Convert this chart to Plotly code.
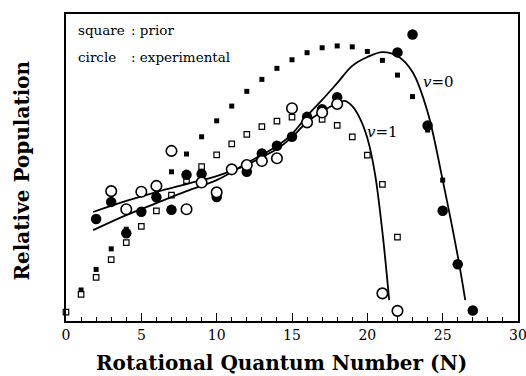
"""
Relative population of rotational levels N for v=0 and v=1:
prior distribution (squares), experimental values (circles) and fitted
curves, drawn with Plotly.
"""

import plotly.graph_objects as go

# prior distribution, v=0 (small filled squares)
PRIOR_V0_N = list(range(0, 26))
PRIOR_V0 = [0.29, 1.01, 1.68, 2.35, 2.99, 3.62, 4.23, 4.86, 5.44, 6.00,
            6.52, 7.00, 7.48, 7.87, 8.23, 8.51, 8.74, 8.90, 8.96, 8.93,
            8.78, 8.49, 8.01, 7.31, 6.22, 4.59]

# prior distribution, v=1 (small open squares)
PRIOR_V1_N = list(range(0, 23))
PRIOR_V1 = [0.29, 0.87, 1.42, 2.00, 2.55, 3.08, 3.59, 4.10, 4.57, 5.03,
            5.41, 5.77, 6.08, 6.33, 6.51, 6.64, 6.63, 6.57, 6.37, 6.00,
            5.40, 4.45, 2.73]

# experimental, v=0 (filled circles)
EXP_V0_N = [2, 3, 4, 5, 6, 7, 8, 9, 10, 12, 13, 14, 15, 16, 17, 18,
            22, 23, 24, 25, 26, 27]
EXP_V0 = [3.32, 3.88, 2.86, 3.56, 4.03, 3.62, 4.76, 4.79, 4.04, 4.86,
          5.46, 5.71, 6.00, 6.65, 6.90, 7.29, 8.75, 9.33, 6.37, 3.59,
          1.85, 0.34]

# experimental, v=1 (open circles)
EXP_V1_N = [3, 4, 5, 6, 7, 8, 9, 10, 11, 12, 13, 14, 15, 16, 17, 18,
            21, 22]
EXP_V1 = [4.23, 3.64, 4.21, 4.40, 5.54, 3.64, 4.51, 4.19, 4.94, 5.08,
          5.21, 5.30, 6.93, 6.47, 6.79, 7.07, 0.90, 0.33]

# fitted curves
FIT_V0_N = [1.8, 4, 6, 8, 10, 11, 12, 13, 14, 15, 16, 17, 18, 19, 20,
            21, 22, 23, 24, 25, 26, 26.5]
FIT_V0 = [2.96, 3.45, 3.84, 4.23, 4.59, 4.85, 5.15, 5.41, 5.70, 6.09,
          6.68, 7.20, 7.75, 8.31, 8.60, 8.76, 8.63, 8.11, 6.81, 4.59,
          2.12, 0.68]

FIT_V1_N = [1.8, 4, 6, 8, 10, 11, 12, 13, 14, 15, 16, 17, 18, 18.5, 19,
            19.5, 20, 20.5, 21, 21.45]
FIT_V1 = [3.55, 3.91, 4.20, 4.46, 4.72, 4.89, 5.08, 5.34, 5.60, 5.99,
          6.48, 6.82, 7.10, 7.17, 7.00, 6.61, 5.96, 4.82, 2.90, 0.68]

SERIF = 'DejaVu Serif'


def add_points(fig):
    """
    Adds the prior squares, the fitted curves and the experimental
    circles, in the order they should be stacked.
    """
    fig.add_trace(go.Scatter(x=PRIOR_V0_N, y=PRIOR_V0, mode='markers',
                             marker=dict(symbol='square', size=5,
                                         color='black'),
                             cliponaxis=False))
    fig.add_trace(go.Scatter(x=PRIOR_V1_N, y=PRIOR_V1, mode='markers',
                             marker=dict(symbol='square', size=5.5,
                                         color='white',
                                         line=dict(color='black',
                                                   width=1.2)),
                             cliponaxis=False))
    for n, pop in [(FIT_V0_N, FIT_V0), (FIT_V1_N, FIT_V1)]:
        fig.add_trace(go.Scatter(x=n, y=pop, mode='lines',
                                 line=dict(color='black', width=1.8,
                                           shape='spline', smoothing=1)))
    fig.add_trace(go.Scatter(x=EXP_V0_N, y=EXP_V0, mode='markers',
                             marker=dict(symbol='circle', size=10.5,
                                         color='black'),
                             cliponaxis=False))
    fig.add_trace(go.Scatter(x=EXP_V1_N, y=EXP_V1, mode='markers',
                             marker=dict(symbol='circle', size=10.5,
                                         color='white',
                                         line=dict(color='black',
                                                   width=1.6)),
                             cliponaxis=False))


def add_labels(fig):
    """
    Adds the key text in the corner, the v labels and both axis titles.
    """
    key = dict(xref='paper', yref='paper', showarrow=False,
               xanchor='left', yanchor='middle',
               font=dict(family=SERIF, size=13.5, color='black'))
    fig.add_annotation(text='square', x=0.022, y=0.948, **key)
    fig.add_annotation(text=': prior', x=0.14, y=0.948, **key)
    fig.add_annotation(text='circle', x=0.022, y=0.86, **key)
    fig.add_annotation(text=': experimental', x=0.14, y=0.86, **key)

    vlab = dict(showarrow=False, font=dict(family=SERIF, size=15,
                                           color='black'))
    fig.add_annotation(text='<i>v</i>=0', x=24.7, y=7.78, **vlab)
    fig.add_annotation(text='<i>v</i>=1', x=21.0, y=6.16, **vlab)

    title = dict(family=SERIF, size=20, color='black', weight='bold')
    fig.add_annotation(text='Rotational Quantum Number (N)',
                       xref='paper', yref='paper', x=0.476, y=0,
                       yanchor='middle', yshift=-42, showarrow=False,
                       font=title)
    fig.add_annotation(text='Relative Population', textangle=-90,
                       xref='paper', yref='paper', x=0, y=0.49,
                       xanchor='center', xshift=-44, showarrow=False,
                       font=title)


def main():
    fig = go.Figure()
    add_points(fig)
    add_labels(fig)
    fig.update_layout(width=526, height=376, showlegend=False,
                      margin=dict(l=66, r=8, t=14, b=55),
                      plot_bgcolor='white', paper_bgcolor='white')
    fig.update_xaxes(range=[0, 30], dtick=5, ticks='inside', ticklen=8,
                     tickwidth=1, tickcolor='black', automargin=False,
                     ticklabeloverflow='allow',
                     minor=dict(dtick=1, ticks='inside', ticklen=4,
                                tickcolor='black'),
                     showgrid=False, zeroline=False, showline=True,
                     mirror=True, linecolor='black', linewidth=1.5,
                     tickfont=dict(family=SERIF, size=14, color='black'))
    fig.update_yaxes(range=[0, 10], showticklabels=False, ticks='',
                     automargin=False,
                     showgrid=False, zeroline=False, showline=True,
                     mirror=True, linecolor='black', linewidth=1.5)
    fig.write_html('out.html',
                   config={'responsive': False, 'displayModeBar': False},
                   post_script="document.body.style.margin='0';"
                               "document.body.style.overflow='hidden';")


if __name__ == '__main__':
    main()
